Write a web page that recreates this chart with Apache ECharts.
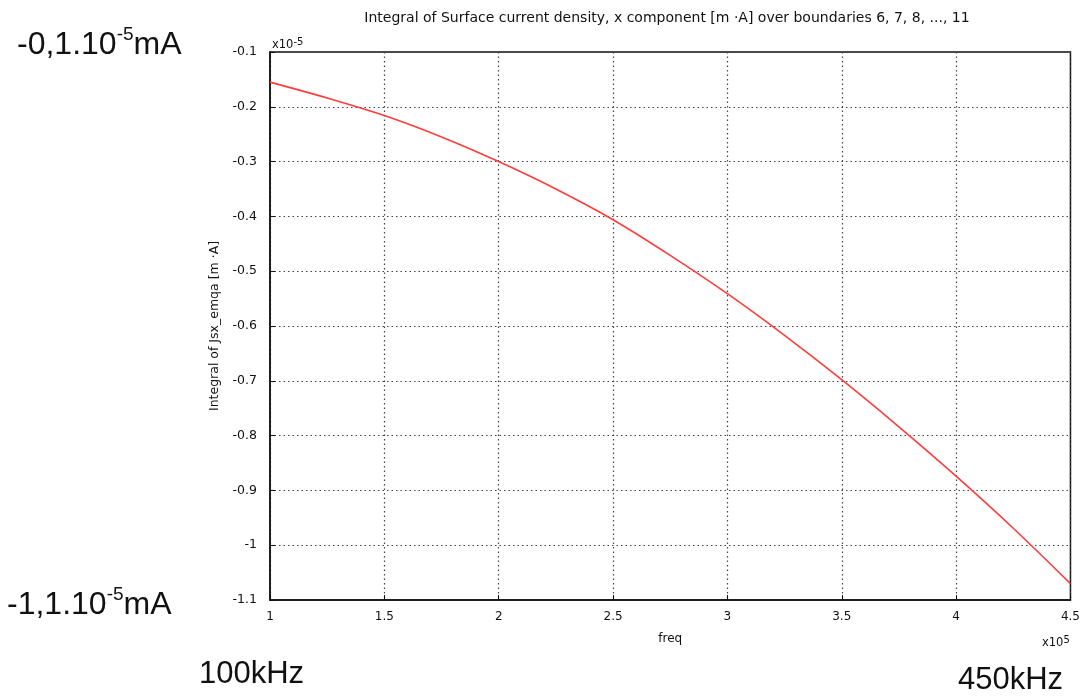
<!DOCTYPE html>
<html>
<head>
<meta charset="utf-8">
<script src="https://cdn.jsdelivr.net/npm/echarts@6/dist/echarts.min.js"></script>
<style>html,body{margin:0;padding:0;background:#fff}#c{width:1083px;height:697px}</style>
</head>
<body>
<div id="c"></div>
<script>
// freq in units of 1e5 Hz
const freq = [1.0, 1.25, 1.5, 1.75, 2.0, 2.25, 2.5, 2.75, 3.0, 3.25, 3.5, 3.75, 4.0, 4.25, 4.5];
// integral values in units of 1e-5 m·A
const jsx = [-0.155, -0.184, -0.216, -0.255, -0.300, -0.350, -0.406, -0.471, -0.541, -0.617, -0.698, -0.784, -0.874, -0.969, -1.070];
const titleText = 'Integral of Surface current density, x component [m ·A] over boundaries 6, 7, 8, ..., 11';
const yName = 'Integral of Jsx_emqa [m ·A]';
const xName = 'freq';

const chart = echarts.init(document.getElementById('c'));
const smallFont = 'DejaVu Sans';
const bigFont = 'Liberation Sans';
function bigLabel(x, y, main1, sup, main2) {
  return {
    type: 'text', left: x, top: y,
    style: {
      text: '{a|' + main1 + '}{s|' + sup + '}{a|' + main2 + '}',
      rich: {
        a: {fontFamily: bigFont, fontSize: 32, fill: '#111', verticalAlign: 'bottom', lineHeight: 36},
        s: {fontFamily: bigFont, fontSize: 19, fill: '#111', verticalAlign: 'top', lineHeight: 36, padding: [0, 0, 15, 0]}
      }
    }
  };
}
chart.setOption({
  backgroundColor: '#fff',
  animation: false,
  title: {
    text: titleText, left: 662, top: 6, textAlign: 'center',
    textStyle: {fontFamily: smallFont, fontSize: 14, fontWeight: 'normal', color: '#111'}
  },
  grid: {left: 270, right: 11, top: 52, bottom: 97, show: true, borderColor: '#111', borderWidth: 1.5, backgroundColor: 'transparent'},
  xAxis: {
    type: 'value', min: 1, max: 4.5, interval: 0.5,
    name: xName, nameLocation: 'middle', nameGap: 33,
    nameTextStyle: {fontFamily: smallFont, fontSize: 12, color: '#111'},
    axisLine: {show: true, onZero: false, lineStyle: {color: '#111', width: 1.5}},
    axisTick: {show: true, inside: true, length: 5, lineStyle: {color: '#111'}},
    axisLabel: {fontFamily: smallFont, fontSize: 12, color: '#111', margin: 11, formatter: v => String(+v.toFixed(2))},
    splitLine: {show: true, lineStyle: {color: '#444', type: [1.5, 3], width: 1.2}}
  },
  yAxis: {
    type: 'value', min: -1.1, max: -0.1, interval: 0.1,
    name: yName, nameLocation: 'middle', nameGap: 49,
    nameTextStyle: {fontFamily: smallFont, fontSize: 12.5, color: '#111'},
    axisLine: {show: true, onZero: false, lineStyle: {color: '#111', width: 1.5}},
    axisTick: {show: true, inside: true, length: 5, lineStyle: {color: '#111'}},
    axisLabel: {fontFamily: smallFont, fontSize: 12.5, color: '#111', margin: 13, formatter: v => String(+v.toFixed(2))},
    splitLine: {show: true, lineStyle: {color: '#444', type: [1.5, 3], width: 1.2}}
  },
  series: [{
    type: 'line', data: freq.map((f, i) => [f, jsx[i]]),
    smooth: 0.3, showSymbol: false,
    lineStyle: {color: '#ff3b3b', width: 1.6}
  }],
  graphic: [
    {type: 'text', left: 272, top: 37, style: {text: '{a|x10}{s|-5}', rich: {a: {fontFamily: smallFont, fontSize: 11.5, fill: '#111'}, s: {fontFamily: smallFont, fontSize: 10, fill: '#111', padding: [0, 0, 6, 0]}}}},
    {type: 'text', left: 1042, top: 635, style: {text: '{a|x10}{s|5}', rich: {a: {fontFamily: smallFont, fontSize: 11.5, fill: '#111'}, s: {fontFamily: smallFont, fontSize: 10, fill: '#111', padding: [0, 0, 6, 0]}}}},
    bigLabel(17, 25, '-0,1.10', '-5', 'mA'),
    bigLabel(7, 585, '-1,1.10', '-5', 'mA'),
    {type: 'text', left: 199, top: 659, style: {text: '100kHz', fontFamily: bigFont, fontSize: 31, fill: '#111'}},
    {type: 'text', left: 958, top: 665, style: {text: '450kHz', fontFamily: bigFont, fontSize: 31, fill: '#111'}}
  ]
});
</script>
</body>
</html>
